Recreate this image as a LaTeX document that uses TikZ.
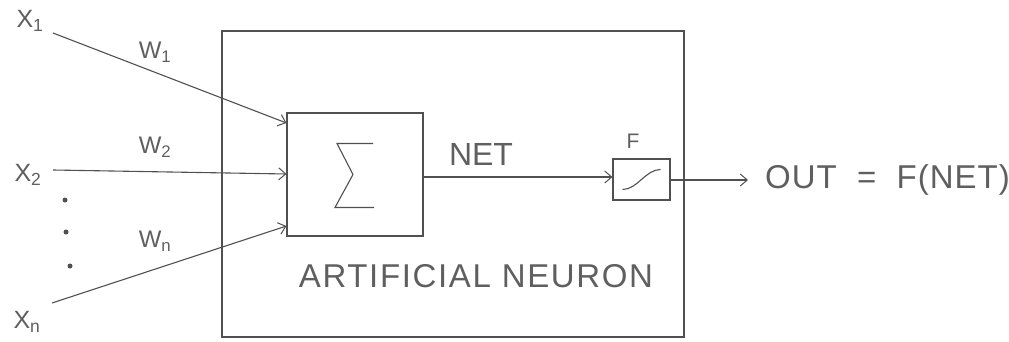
\documentclass[tikz,border=0pt]{standalone}
\usepackage{fontspec}
\setmainfont{Liberation Sans}
\usetikzlibrary{arrows.meta}
\definecolor{ink}{RGB}{80,80,80}
\definecolor{txt}{RGB}{95,95,95}
\tikzset{
  wire/.style={draw=ink,line width=1.1pt},
  arr/.style={wire,-{Straight Barb[length=7pt,width=12pt,line width=1pt]}},
  blockbox/.style={draw=ink,line width=1.1pt,rectangle,inner sep=0pt},
  lbl/.style={text=txt,inner sep=0pt},
  dotmark/.style={fill=ink,draw=none,circle,minimum size=5pt,inner sep=0pt}
}
\begin{document}
\begin{tikzpicture}[x=1pt,y=-1pt]
\useasboundingbox (0,0) rectangle (1009,342);
% outer neuron box
\node[blockbox,minimum width=462pt,minimum height=306pt] (neuron) at (453,184) {};
% summation box
\node[blockbox,minimum width=136pt,minimum height=123pt] (sum) at (355,174.5) {};
\draw[ink,line width=1.1pt] ([shift={(18,-31)}]sum.center) -- ([shift={(-18,-31)}]sum.center)
   -- ([shift={(-2,0)}]sum.center) -- ([shift={(-20,33)}]sum.center) -- ([shift={(19,33)}]sum.center);
% activation box
\node[blockbox,minimum width=57pt,minimum height=41pt] (act) at (641.5,179.5) {};
\draw[ink,line width=1.1pt] ([shift={(-19,10)}]act.center) .. controls ([shift={(-4,10)}]act.center) and ([shift={(4,-10)}]act.center) .. ([shift={(19,-10)}]act.center);
\node[lbl,font=\fontsize{21}{21}\selectfont] (flbl) at (633,141) {F};
% inputs
\node[lbl,font=\fontsize{25}{25}\selectfont] (x1) at (30,21) {X\textsubscript{1}};
\node[lbl,font=\fontsize{25}{25}\selectfont] (x2) at (28,175) {X\textsubscript{2}};
\node[lbl,font=\fontsize{25}{25}\selectfont] (xn) at (27,322) {X\textsubscript{n}};
\coordinate (x1s) at (53,33);
\coordinate (x2s) at (53,170);
\coordinate (xns) at (52,303);
\coordinate (s1) at (sum.west |- 0,123);
\coordinate (s2) at (sum.west |- 0,174);
\coordinate (s3) at (sum.west |- 0,226);
\draw[arr] (x1s) -- (s1);
\draw[arr] (x2s) -- (s2);
\draw[arr] (xns) -- (s3);
\node[lbl,font=\fontsize{24}{24}\selectfont] (w1) at (155,52) {W\textsubscript{1}};
\node[lbl,font=\fontsize{24}{24}\selectfont] (w2) at (155,147) {W\textsubscript{2}};
\node[lbl,font=\fontsize{24}{24}\selectfont] (wn) at (155,241) {W\textsubscript{n}};
\node[dotmark] (d1) at (65,200) {};
\node[dotmark] (d2) at (66,232) {};
\node[dotmark] (d3) at (70,266) {};
% NET
\draw[arr] (sum.east |- 0,177) -- (act.west |- 0,177);
\node[lbl,font=\fontsize{32}{32}\selectfont] (net) at (481,154) {NET};
% output
\coordinate (outend) at (748,180);
\draw[arr] (act.east |- 0,180) -- (outend);
\node[lbl,anchor=west,font=\fontsize{33}{33}\selectfont\addfontfeature{LetterSpace=3}] (out) at (765,180) {OUT \ = \ F(NET)};
% caption
\node[lbl,font=\fontsize{33}{33}\selectfont\addfontfeature{LetterSpace=5}] (cap) at (476,276) {ARTIFICIAL NEURON};
\end{tikzpicture}
\end{document}
